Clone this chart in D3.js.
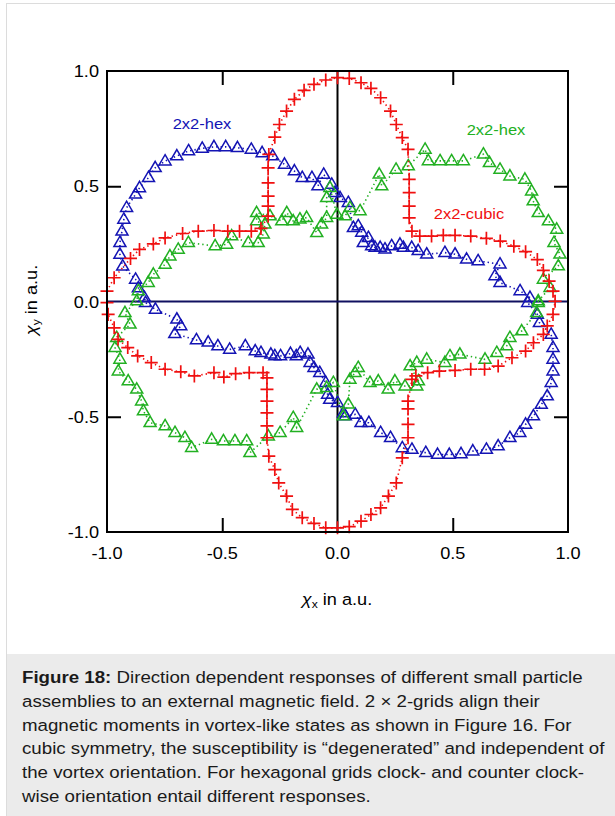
<!DOCTYPE html>
<html>
<head>
<meta charset="utf-8">
<script src="https://cdn.jsdelivr.net/npm/d3@7"></script>
<style>
  body { margin: 0; background: #fff; }
  svg { display: block; font-family: "Liberation Sans", Arial, sans-serif; }
</style>
</head>
<body>
<div id="vis"></div>
<script>
const w = 615;
const h = 816;

// axis ticks
const tickValues = [-1, -0.5, 0, 0.5, 1];
const tickLabels = ["-1.0", "-0.5", "0.0", "0.5", "1.0"];
const innerTicks = [-0.5, 0.5];

// 2x2-cubic (red crosses), closed loop
const cubicPts = [
  [-1.0, 0.045], [-0.969, 0.103], [-0.898, 0.187], [-0.859, 0.226], [-0.799, 0.25], [-0.748, 0.276],
  [-0.672, 0.295], [-0.604, 0.305], [-0.536, 0.308], [-0.476, 0.305], [-0.425, 0.305], [-0.374, 0.305],
  [-0.332, 0.317], [-0.301, 0.37], [-0.301, 0.414], [-0.301, 0.457], [-0.301, 0.515], [-0.301, 0.58],
  [-0.298, 0.638], [-0.272, 0.713], [-0.252, 0.768], [-0.221, 0.826], [-0.187, 0.877], [-0.145, 0.916],
  [-0.102, 0.942], [-0.051, 0.961], [0.0, 0.971], [0.051, 0.968], [0.102, 0.949], [0.145, 0.925],
  [0.187, 0.884], [0.23, 0.826], [0.255, 0.768], [0.281, 0.711], [0.306, 0.66], [0.311, 0.53],
  [0.311, 0.472], [0.311, 0.414], [0.311, 0.363], [0.323, 0.305], [0.357, 0.284], [0.408, 0.284],
  [0.459, 0.287], [0.51, 0.287], [0.578, 0.284], [0.646, 0.274], [0.706, 0.262], [0.765, 0.24],
  [0.816, 0.216], [0.867, 0.182], [0.893, 0.135], [0.918, 0.088], [0.935, 0.045], [0.944, 0.001],
  [0.935, -0.056], [0.91, -0.106], [0.893, -0.143], [0.85, -0.179], [0.816, -0.215], [0.757, -0.244],
  [0.697, -0.28], [0.638, -0.294], [0.578, -0.294], [0.51, -0.299], [0.442, -0.302], [0.391, -0.309],
  [0.34, -0.323], [0.323, -0.338], [0.306, -0.432], [0.306, -0.466], [0.306, -0.533], [0.306, -0.591],
  [0.281, -0.678], [0.255, -0.787], [0.221, -0.844], [0.187, -0.895], [0.145, -0.924], [0.102, -0.953],
  [0.051, -0.977], [0.0, -0.982], [-0.051, -0.982], [-0.102, -0.963], [-0.153, -0.938], [-0.196, -0.902],
  [-0.221, -0.844], [-0.255, -0.787], [-0.272, -0.729], [-0.298, -0.671], [-0.306, -0.591], [-0.306, -0.54],
  [-0.306, -0.483], [-0.306, -0.432], [-0.306, -0.381], [-0.306, -0.331], [-0.323, -0.309], [-0.383, -0.309],
  [-0.442, -0.313], [-0.493, -0.328], [-0.536, -0.309], [-0.621, -0.323], [-0.68, -0.305], [-0.748, -0.294],
  [-0.808, -0.265], [-0.867, -0.236], [-0.91, -0.2], [-0.952, -0.164], [-0.969, -0.114], [-0.995, -0.056],
  [-1.0, -0.005]
];

// 2x2-hex (blue triangles), closed loop
const hexBluePts = [
  [0.835, 0.017], [0.792, 0.046], [0.705, 0.082], [0.683, 0.111], [0.705, 0.162], [0.61, 0.176],
  [0.56, 0.183], [0.51, 0.205], [0.466, 0.212], [0.387, 0.205], [0.35, 0.22], [0.322, 0.234],
  [0.286, 0.234], [0.271, 0.248], [0.235, 0.241], [0.206, 0.227], [0.185, 0.234], [0.163, 0.234],
  [0.148, 0.241], [0.134, 0.277], [0.112, 0.255], [0.105, 0.3], [0.09, 0.328], [0.069, 0.32],
  [0.047, 0.429], [0.011, 0.45], [-0.011, 0.472], [-0.025, 0.508], [-0.06, 0.551], [-0.085, 0.501],
  [-0.111, 0.537], [-0.153, 0.537], [-0.187, 0.566], [-0.23, 0.595], [-0.281, 0.631], [-0.327, 0.645],
  [-0.374, 0.66], [-0.434, 0.667], [-0.485, 0.671], [-0.536, 0.671], [-0.587, 0.664], [-0.646, 0.653],
  [-0.697, 0.631], [-0.748, 0.609], [-0.791, 0.58], [-0.82, 0.537], [-0.859, 0.493], [-0.876, 0.465],
  [-0.915, 0.407], [-0.927, 0.356], [-0.935, 0.305], [-0.944, 0.255], [-0.944, 0.204], [-0.932, 0.153],
  [-0.876, 0.096], [-0.864, 0.059], [-0.837, 0.016], [-0.833, -0.005], [-0.79, -0.034], [-0.697, -0.077],
  [-0.68, -0.106], [-0.706, -0.14], [-0.612, -0.167], [-0.561, -0.177], [-0.519, -0.193], [-0.468, -0.208],
  [-0.4, -0.193], [-0.357, -0.215], [-0.332, -0.222], [-0.289, -0.229], [-0.272, -0.236], [-0.247, -0.236],
  [-0.204, -0.226], [-0.179, -0.236], [-0.162, -0.222], [-0.128, -0.229], [-0.119, -0.265], [-0.102, -0.287],
  [-0.077, -0.309], [-0.051, -0.352], [-0.043, -0.403], [-0.034, -0.425], [0.0, -0.439], [0.026, -0.483],
  [0.034, -0.497], [0.077, -0.49], [0.102, -0.526], [0.136, -0.526], [0.187, -0.569], [0.23, -0.591],
  [0.281, -0.635], [0.323, -0.642], [0.383, -0.656], [0.434, -0.664], [0.485, -0.664], [0.536, -0.661],
  [0.587, -0.649], [0.646, -0.642], [0.697, -0.627], [0.748, -0.591], [0.791, -0.569], [0.816, -0.533],
  [0.85, -0.497], [0.884, -0.447], [0.91, -0.41], [0.927, -0.352], [0.935, -0.302], [0.935, -0.251],
  [0.935, -0.2], [0.927, -0.143], [0.876, -0.092], [0.867, -0.056], [0.825, -0.005]
];

// 2x2-hex (green triangles), closed loop
const hexGreenPts = [
  [0.871, 0.002], [0.922, 0.06], [0.893, 0.096], [0.958, 0.154], [0.965, 0.205], [0.939, 0.255],
  [0.951, 0.313], [0.915, 0.349], [0.871, 0.385], [0.849, 0.436], [0.842, 0.479], [0.813, 0.53],
  [0.748, 0.544], [0.705, 0.573], [0.659, 0.602], [0.633, 0.639], [0.546, 0.61], [0.495, 0.61],
  [0.445, 0.61], [0.394, 0.61], [0.38, 0.66], [0.307, 0.588], [0.254, 0.573], [0.192, 0.501],
  [0.181, 0.552], [0.098, 0.393], [0.054, 0.407], [0.033, 0.371], [-0.003, 0.378], [-0.033, 0.494],
  [-0.047, 0.45], [-0.047, 0.364], [-0.069, 0.335], [-0.09, 0.298], [-0.134, 0.364], [-0.163, 0.357],
  [-0.192, 0.349], [-0.22, 0.385], [-0.242, 0.349], [-0.293, 0.371], [-0.351, 0.385], [-0.351, 0.349],
  [-0.315, 0.335], [-0.322, 0.292], [-0.344, 0.255], [-0.387, 0.255], [-0.459, 0.284], [-0.481, 0.248],
  [-0.531, 0.241], [-0.647, 0.255], [-0.691, 0.226], [-0.727, 0.197], [-0.748, 0.161], [-0.799, 0.118],
  [-0.821, 0.082], [-0.864, 0.046], [-0.871, 0.002], [-0.922, -0.049], [-0.9, -0.099], [-0.958, -0.157],
  [-0.965, -0.2], [-0.944, -0.251], [-0.951, -0.302], [-0.908, -0.345], [-0.871, -0.381], [-0.85, -0.432],
  [-0.842, -0.475], [-0.813, -0.526], [-0.748, -0.54], [-0.705, -0.569], [-0.662, -0.591], [-0.633, -0.634],
  [-0.546, -0.598], [-0.495, -0.605], [-0.445, -0.605], [-0.394, -0.605], [-0.38, -0.656], [-0.3, -0.584],
  [-0.249, -0.569], [-0.192, -0.504], [-0.177, -0.547], [-0.09, -0.381], [-0.047, -0.374], [-0.018, -0.352],
  [0.025, -0.497], [0.047, -0.446], [0.054, -0.338], [0.076, -0.309], [0.09, -0.287], [0.141, -0.352],
  [0.177, -0.345], [0.22, -0.381], [0.249, -0.345], [0.293, -0.367], [0.344, -0.367], [0.351, -0.345],
  [0.315, -0.28], [0.344, -0.265], [0.387, -0.251], [0.466, -0.265], [0.488, -0.236], [0.531, -0.229],
  [0.64, -0.251], [0.691, -0.222], [0.734, -0.193], [0.748, -0.157], [0.799, -0.128], [0.864, -0.049],
  [0.871, -0.005]
];

const captionLines = [
  "Direction dependent responses of different small particle",
  "assemblies to an external magnetic field. 2 \u00d7 2-grids align their",
  "magnetic moments in vortex-like states as shown in Figure 16. For",
  "cubic symmetry, the susceptibility is \u201cdegenerated\u201d and independent of",
  "the vortex orientation. For hexagonal grids clock- and counter clock-",
  "wise orientation entail different responses."
];

const red = "#f01010";
const blue = "#1414b4";
const green = "#22b022";
const stretch = 1.1;

const svg = d3.select('#vis')
    .append('svg')
    .attr('width', w)
    .attr('height', h);

// page frame + caption box
svg.append('line').attr('x1', 6.5).attr('x2', 6.5).attr('y1', 3).attr('y2', h)
    .attr('stroke', '#dcdcdc').attr('stroke-width', 1);
svg.append('line').attr('x1', 6).attr('x2', w).attr('y1', 3.5).attr('y2', 3.5)
    .attr('stroke', '#dcdcdc').attr('stroke-width', 1);
svg.append('rect').attr('x', 7).attr('y', 654).attr('width', w - 7).attr('height', h - 654)
    .attr('fill', '#ebebeb');

let xScale = d3.scaleLinear().domain([-1, 1]).range([107, 568]);
let yScale = d3.scaleLinear().domain([-1, 1]).range([532, 71]);

// inward ticks on all four sides
const tickStyle = g => {
    g.select('.domain').remove();
    g.selectAll('.tick line').attr('stroke', '#000').attr('stroke-width', 2);
};
svg.append('g').attr('transform', 'translate(0,' + yScale(1) + ')')
    .call(d3.axisTop(xScale).tickValues(innerTicks).tickSize(-14).tickFormat(''))
    .call(tickStyle);
svg.append('g').attr('transform', 'translate(0,' + yScale(-1) + ')')
    .call(d3.axisBottom(xScale).tickValues(innerTicks).tickSize(-14).tickFormat(''))
    .call(tickStyle);
svg.append('g').attr('transform', 'translate(' + xScale(-1) + ',0)')
    .call(d3.axisLeft(yScale).tickValues(innerTicks).tickSize(-14).tickFormat(''))
    .call(tickStyle);
svg.append('g').attr('transform', 'translate(' + xScale(1) + ',0)')
    .call(d3.axisRight(yScale).tickValues(innerTicks).tickSize(-14).tickFormat(''))
    .call(tickStyle);

// zero lines
svg.append('line')
    .attr('x1', xScale(0)).attr('x2', xScale(0)).attr('y1', yScale(1)).attr('y2', yScale(-1))
    .attr('stroke', '#000').attr('stroke-width', 2);
svg.append('line')
    .attr('x1', xScale(-1)).attr('x2', xScale(1)).attr('y1', yScale(0)).attr('y2', yScale(0))
    .attr('stroke', '#101060').attr('stroke-width', 2);

// tick labels
svg.selectAll('.ylab')
    .data(tickValues)
    .join('text')
    .attr('class', 'ylab')
    .attr('transform', d => 'translate(99,' + (yScale(d) + 6) + ') scale(' + stretch + ',1)')
    .attr('text-anchor', 'end')
    .attr('font-size', '16.5px')
    .text((d, i) => tickLabels[i]);

svg.selectAll('.xlab')
    .data(tickValues)
    .join('text')
    .attr('class', 'xlab')
    .attr('transform', d => 'translate(' + xScale(d) + ',559) scale(' + stretch + ',1)')
    .attr('text-anchor', 'middle')
    .attr('font-size', '16.5px')
    .text((d, i) => tickLabels[i]);

// axis titles
let xTitle = svg.append('text')
    .attr('transform', 'translate(337,605) scale(' + stretch + ',1)')
    .attr('text-anchor', 'middle')
    .attr('font-size', '16.5px');
xTitle.append('tspan').attr('font-style', 'italic').text('\u03c7');
xTitle.append('tspan').attr('font-size', '11px').attr('dy', 3).text('x');
xTitle.append('tspan').attr('dy', -3).text(' in a.u.');

let yTitle = svg.append('text')
    .attr('transform', 'translate(37,300) rotate(-90) scale(' + stretch + ',1)')
    .attr('text-anchor', 'middle')
    .attr('font-size', '16.5px');
yTitle.append('tspan').attr('font-style', 'italic').text('\u03c7');
yTitle.append('tspan').attr('font-size', '11px').attr('dy', 3).text('y');
yTitle.append('tspan').attr('dy', -3).text(' in a.u.');

// series
const line = d3.line()
    .x(d => xScale(d[0]))
    .y(d => yScale(d[1]))
    .curve(d3.curveLinearClosed);

const tri = 'M0,-6.5L6,3.8L-6,3.8Z';

function drawSeries(pts, color, marker, sw) {
    svg.append('path')
        .attr('d', line(pts))
        .attr('fill', 'none')
        .attr('stroke', color)
        .attr('stroke-width', 1.6)
        .attr('stroke-dasharray', '1.4 3');
    svg.append('g')
        .selectAll('path')
        .data(pts)
        .join('path')
        .attr('transform', d => 'translate(' + xScale(d[0]) + ',' + yScale(d[1]) + ')')
        .attr('d', marker)
        .attr('fill', 'none')
        .attr('stroke', color)
        .attr('stroke-width', sw);
}

drawSeries(hexBluePts, blue, tri, 1.5);
drawSeries(hexGreenPts, green, tri, 1.5);
drawSeries(cubicPts, red, 'M-6.5,0H6.5M0,-6.5V6.5', 1.7);

// frame
svg.append('rect')
    .attr('x', xScale(-1)).attr('y', yScale(1))
    .attr('width', xScale(1) - xScale(-1)).attr('height', yScale(-1) - yScale(1))
    .attr('fill', 'none').attr('stroke', '#000').attr('stroke-width', 2);

// series labels
svg.append('text').attr('transform', 'translate(202,129) scale(' + stretch + ',1)')
    .attr('text-anchor', 'middle').attr('font-size', '15px').attr('fill', blue).text('2x2-hex');
svg.append('text').attr('transform', 'translate(496,135) scale(' + stretch + ',1)')
    .attr('text-anchor', 'middle').attr('font-size', '15px').attr('fill', green).text('2x2-hex');
svg.append('text').attr('transform', 'translate(469,219) scale(' + stretch + ',1)')
    .attr('text-anchor', 'middle').attr('font-size', '15px').attr('fill', red).text('2x2-cubic');

// caption
let cap = svg.append('text')
    .attr('transform', 'translate(22,683) scale(' + stretch + ',1)')
    .attr('font-size', '17px')
    .attr('fill', '#1a1a1a');
captionLines.forEach((t, i) => {
    let ts = cap.append('tspan').attr('x', 0).attr('y', i * 23.8);
    if (i === 0) {
        ts.append('tspan').attr('font-weight', 'bold').text('Figure 18: ');
    }
    ts.append('tspan').text(t);
});
</script>
</body>
</html>
